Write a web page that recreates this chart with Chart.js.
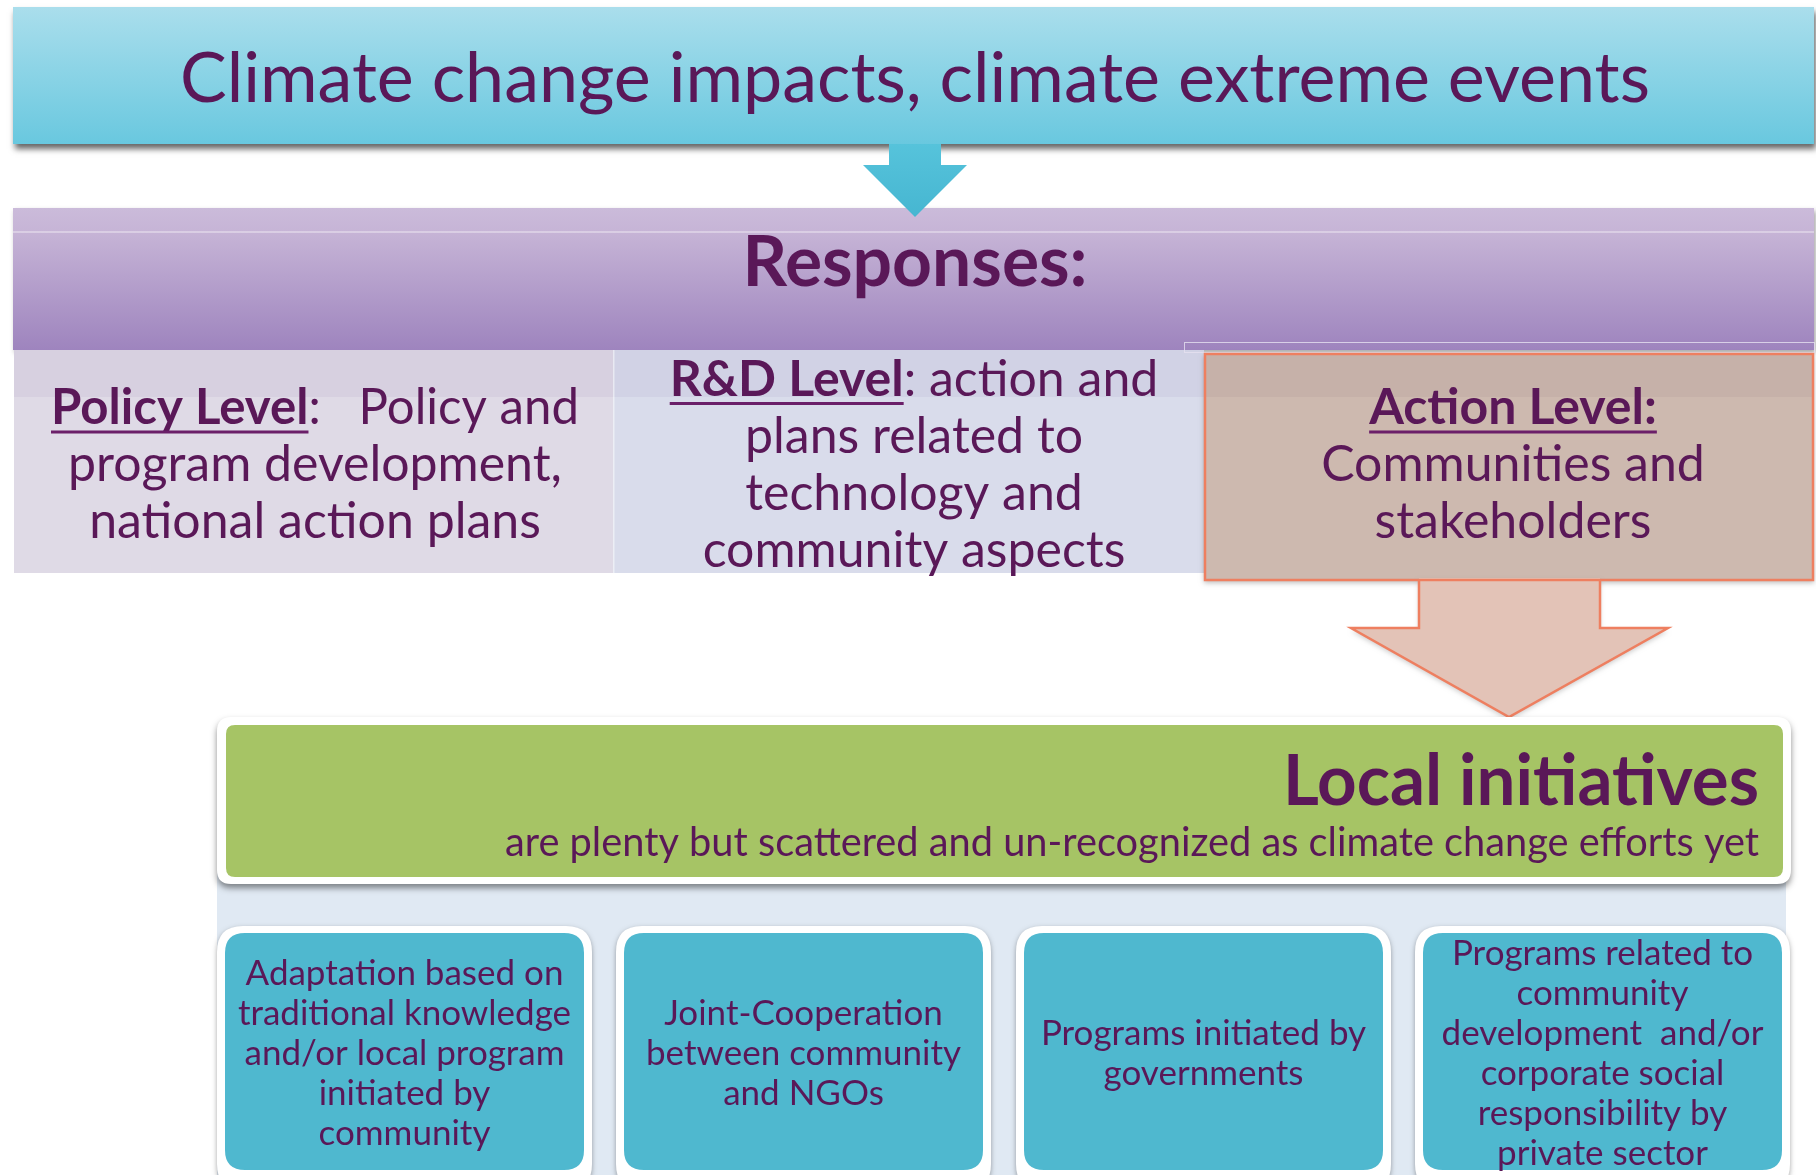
<!DOCTYPE html>
<html>
<head>
<meta charset="utf-8">
<script src="https://cdn.jsdelivr.net/npm/chart.js@4.4.1/dist/chart.umd.min.js"></script>
<style>
  html, body { margin: 0; padding: 0; background: #ffffff; }
  #wrap { width: 1816px; height: 1175px; }
</style>
</head>
<body>
<div id="wrap"><canvas id="diagram" width="1816" height="1175"></canvas></div>
<script>
/* ── Textos del diagrama ─────────────────────────────────────── */
const TITLE = 'Climate change impacts, climate extreme events';
const RESPONSES = 'Responses:';
const LEVEL_HEADS = ['Policy Level', 'R&D Level', 'Action Level:'];
const LEVEL_HEAD_REST = [':   Policy and', ': action and', ''];
const LEVEL_LINES = [
    ['program development,', 'national action plans'],
    ['plans related to', 'technology and', 'community aspects'],
    ['Communities and', 'stakeholders']
];
const LOCAL_TITLE = 'Local initiatives';
const LOCAL_SUB = 'are plenty but scattered and un-recognized as climate change efforts yet';
const INITIATIVES = [
    ['Adaptation based on', 'traditional knowledge', 'and/or local program', 'initiated by', 'community'],
    ['Joint-Cooperation', 'between community', 'and NGOs'],
    ['Programs initiated by', 'governments'],
    ['Programs related to', 'community', 'development  and/or', 'corporate social', 'responsibility by', 'private sector']
];

/* ── Layout (unidades del lienzo 1816 x 1175) ─────────────────── */
const W = 1816, H = 1175;
const INK = '#5a1858';
const FONT = 'Lato, "Open Sans", sans-serif';
const LEVEL_CX = [315, 914, 1513];
const BOX_X = [217, 616, 1016, 1415];
const BOX_W = 375;

function roundRect(ctx, x, y, w, h, r) {
    ctx.beginPath();
    ctx.moveTo(x + r, y);
    ctx.lineTo(x + w - r, y);
    ctx.quadraticCurveTo(x + w, y, x + w, y + r);
    ctx.lineTo(x + w, y + h - r);
    ctx.quadraticCurveTo(x + w, y + h, x + w - r, y + h);
    ctx.lineTo(x + r, y + h);
    ctx.quadraticCurveTo(x, y + h, x, y + h - r);
    ctx.lineTo(x, y + r);
    ctx.quadraticCurveTo(x, y, x + r, y);
    ctx.closePath();
}

// runs: [{t, bold, under}] ; align 'center' | 'right'
function drawRuns(ctx, runs, x, y, size, align, maxW) {
    const fontOf = r => `${r.bold ? 'bold ' : ''}${size}px ${FONT}`;
    const widths = runs.map(r => { ctx.font = fontOf(r); return ctx.measureText(r.t).width; });
    const total = widths.reduce((a, b) => a + b, 0);
    const s = maxW ? Math.min(1, maxW / total) : 1;
    let cx = align === 'right' ? x - total * s : x - total * s / 2;
    ctx.fillStyle = INK;
    ctx.textAlign = 'left';
    ctx.textBaseline = 'alphabetic';
    runs.forEach((r, i) => {
        ctx.save();
        ctx.translate(cx, y);
        ctx.scale(s, 1);
        ctx.font = fontOf(r);
        ctx.fillText(r.t, 0, 0);
        if (r.under) {
            ctx.fillStyle = '#6b1f69';
            ctx.fillRect(0, size * 0.13, widths[i], Math.max(2, size * 0.06));
        }
        ctx.restore();
        cx += widths[i] * s;
    });
}

const diagramPlugin = {
    id: 'diagram',
    beforeDraw(chart) {
        const ctx = chart.ctx;
        const X = v => chart.scales.x.getPixelForValue(v);
        const Y = v => chart.scales.y.getPixelForValue(v);
        const rect = (x0, y0, x1, y1) => [X(x0), Y(y0), X(x1) - X(x0), Y(y1) - Y(y0)];

        ctx.save();
        ctx.fillStyle = '#ffffff';
        ctx.fillRect(0, 0, W, H);

        /* Banner superior */
        let [bx, by, bw, bh] = rect(13, 7, 1814, 144);
        let g = ctx.createLinearGradient(0, by, 0, by + bh);
        g.addColorStop(0, '#aadeec');
        g.addColorStop(1, '#69c8df');
        ctx.save();
        ctx.shadowColor = 'rgba(0,0,0,0.6)';
        ctx.shadowBlur = 6;
        ctx.shadowOffsetX = 2;
        ctx.shadowOffsetY = 5;
        ctx.fillStyle = g;
        ctx.fillRect(bx, by, bw, bh);
        ctx.restore();
        drawRuns(ctx, [{ t: TITLE }], X(915), Y(102), 70, 'center', 1470);

        /* Banda "Responses" */
        [bx, by, bw, bh] = rect(13, 208, 1814, 350);
        g = ctx.createLinearGradient(0, by, 0, by + bh);
        g.addColorStop(0, '#cbbbda');
        g.addColorStop(0.17, '#c6b4d6');
        g.addColorStop(1, '#9e84be');
        ctx.save();
        ctx.shadowColor = 'rgba(0,0,0,0.35)';
        ctx.shadowBlur = 5;
        ctx.shadowOffsetX = 2;
        ctx.shadowOffsetY = 3;
        ctx.fillStyle = g;
        ctx.fillRect(bx, by, bw, bh);
        ctx.restore();
        ctx.fillStyle = 'rgba(255,255,255,0.35)';
        ctx.fillRect(X(13), Y(231), X(1814) - X(13), 2);

        /* Flecha azul */
        g = ctx.createLinearGradient(0, Y(144), 0, Y(217));
        g.addColorStop(0, '#56c3db');
        g.addColorStop(1, '#46b6d1');
        ctx.fillStyle = g;
        ctx.beginPath();
        ctx.moveTo(X(889), Y(144));
        ctx.lineTo(X(941), Y(144));
        ctx.lineTo(X(941), Y(165));
        ctx.lineTo(X(967), Y(165));
        ctx.lineTo(X(915), Y(217));
        ctx.lineTo(X(863), Y(165));
        ctx.lineTo(X(889), Y(165));
        ctx.closePath();
        ctx.fill();

        drawRuns(ctx, [{ t: RESPONSES, bold: true }], X(915), Y(286), 70, 'center', 345);

        /* Columnas de niveles */
        ctx.fillStyle = '#dfdae6';
        ctx.fillRect(...rect(14, 350, 613, 573));
        ctx.fillStyle = '#d9dceb';
        ctx.fillRect(...rect(613, 350, 1204, 573));
        ctx.fillStyle = 'rgba(110,90,150,0.07)';
        ctx.fillRect(...rect(14, 350, 1204, 397));
        ctx.fillStyle = 'rgba(255,255,255,0.5)';
        ctx.fillRect(X(613), Y(350), 1.5, Y(573) - Y(350));

        // línea fina sobre la caja de acción
        ctx.strokeStyle = 'rgba(230,225,240,0.8)';
        ctx.lineWidth = 1;
        ctx.strokeRect(X(1184) + 0.5, Y(342) + 0.5, X(1814) - X(1184), Y(352) - Y(342));

        // caja de acción
        ctx.save();
        ctx.shadowColor = 'rgba(0,0,0,0.25)';
        ctx.shadowBlur = 5;
        ctx.shadowOffsetY = 3;
        ctx.fillStyle = '#cdb9af';
        ctx.fillRect(...rect(1204, 353, 1814, 580));
        ctx.restore();
        ctx.fillStyle = 'rgba(120,90,100,0.07)';
        ctx.fillRect(...rect(1204, 353, 1814, 397));

        /* Flecha grande naranja */
        ctx.save();
        ctx.shadowColor = 'rgba(0,0,0,0.2)';
        ctx.shadowBlur = 5;
        ctx.shadowOffsetY = 3;
        ctx.fillStyle = '#e3c3b7';
        ctx.beginPath();
        ctx.moveTo(X(1419), Y(578));
        ctx.lineTo(X(1419), Y(628));
        ctx.lineTo(X(1351), Y(628));
        ctx.lineTo(X(1509), Y(717));
        ctx.lineTo(X(1668), Y(628));
        ctx.lineTo(X(1600), Y(628));
        ctx.lineTo(X(1600), Y(578));
        ctx.fill();
        ctx.restore();
        ctx.strokeStyle = '#ee7f60';
        ctx.lineWidth = 2.5;
        ctx.beginPath();
        ctx.moveTo(X(1419), Y(580));
        ctx.lineTo(X(1419), Y(628));
        ctx.lineTo(X(1351), Y(628));
        ctx.lineTo(X(1509), Y(717));
        ctx.lineTo(X(1668), Y(628));
        ctx.lineTo(X(1600), Y(628));
        ctx.lineTo(X(1600), Y(580));
        ctx.stroke();
        ctx.strokeRect(X(1205), Y(354), X(1813) - X(1205), Y(580) - Y(354));

        // textos de niveles
        LEVEL_HEADS.forEach((head, i) => {
            const lines = [[{ t: head, bold: true, under: true }].concat(
                LEVEL_HEAD_REST[i] ? [{ t: LEVEL_HEAD_REST[i] }] : [])]
                .concat(LEVEL_LINES[i].map(t => [{ t }]));
            const y0 = 481 - (lines.length - 1) * 57 / 2;
            lines.forEach((runs, k) => {
                drawRuns(ctx, runs, X(LEVEL_CX[i]), Y(y0 + k * 57), 50, 'center', 528);
            });
        });

        /* Panel azul claro */
        ctx.fillStyle = '#e0e9f3';
        ctx.fillRect(...rect(217, 870, 1786, 1175));

        /* Caja verde "Local initiatives" */
        ctx.save();
        ctx.shadowColor = 'rgba(0,0,0,0.45)';
        ctx.shadowBlur = 6;
        ctx.shadowOffsetY = 4;
        ctx.fillStyle = '#ffffff';
        roundRect(ctx, X(217), Y(717), X(1791) - X(217), Y(884) - Y(717), 14);
        ctx.fill();
        ctx.restore();
        ctx.fillStyle = '#a6c465';
        roundRect(ctx, X(226), Y(725), X(1783) - X(226), Y(877) - Y(725), 9);
        ctx.fill();
        drawRuns(ctx, [{ t: LOCAL_TITLE, bold: true }], X(1759), Y(805), 70, 'right', 476);
        drawRuns(ctx, [{ t: LOCAL_SUB }], X(1759), Y(856), 40, 'right', 1254);

        /* Cajas de iniciativas */
        INITIATIVES.forEach((lines, i) => {
            const x0 = BOX_X[i];
            ctx.save();
            ctx.shadowColor = 'rgba(0,0,0,0.35)';
            ctx.shadowBlur = 5;
            ctx.shadowOffsetY = 2;
            ctx.fillStyle = '#ffffff';
            roundRect(ctx, X(x0), Y(926), X(x0 + BOX_W) - X(x0), Y(1190) - Y(926), 26);
            ctx.fill();
            ctx.restore();
            ctx.fillStyle = '#4fb8cf';
            roundRect(ctx, X(x0 + 8), Y(933), X(x0 + BOX_W - 8) - X(x0 + 8), Y(1170) - Y(933), 20);
            ctx.fill();
            const y0 = 1065 - (lines.length - 1) * 40 / 2;
            lines.forEach((t, k) => {
                drawRuns(ctx, [{ t }], X(x0 + BOX_W / 2), Y(y0 + k * 40), 35, 'center', 340);
            });
        });

        ctx.restore();
    }
};

new Chart(document.getElementById('diagram'), {
    type: 'scatter',
    data: { datasets: [{ data: [], pointRadius: 0 }] },
    options: {
        responsive: false,
        animation: false,
        layout: { padding: 0 },
        plugins: { legend: { display: false }, tooltip: { enabled: false } },
        scales: {
            x: { type: 'linear', min: 0, max: W, display: false },
            y: { type: 'linear', min: 0, max: H, reverse: true, display: false }
        }
    },
    plugins: [diagramPlugin]
});
</script>
</body>
</html>
